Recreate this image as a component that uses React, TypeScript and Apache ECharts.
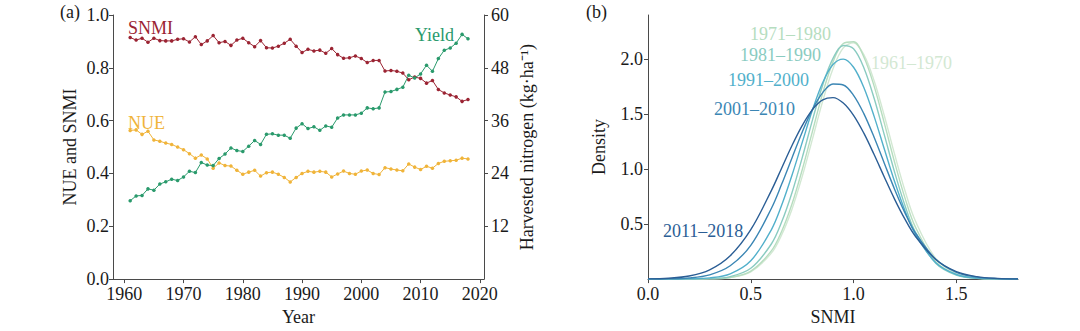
import React, { useEffect, useRef } from "react";
import * as echarts from "echarts";

// ---------- Panel (a) data ----------
const years = [
  1961, 1962, 1963, 1964, 1965, 1966, 1967, 1968, 1969, 1970,
  1971, 1972, 1973, 1974, 1975, 1976, 1977, 1978, 1979, 1980,
  1981, 1982, 1983, 1984, 1985, 1986, 1987, 1988, 1989, 1990,
  1991, 1992, 1993, 1994, 1995, 1996, 1997, 1998, 1999, 2000,
  2001, 2002, 2003, 2004, 2005, 2006, 2007, 2008, 2009, 2010,
  2011, 2012, 2013, 2014, 2015, 2016, 2017, 2018,
];

const snmi = [
  0.915, 0.905, 0.912, 0.897, 0.912, 0.903, 0.902, 0.902, 0.908, 0.91,
  0.898, 0.918, 0.888, 0.902, 0.922, 0.895, 0.9, 0.885, 0.905, 0.912,
  0.895, 0.88, 0.903, 0.876, 0.875, 0.882, 0.893, 0.908, 0.882, 0.858,
  0.87, 0.864, 0.867, 0.855, 0.873, 0.85, 0.836, 0.838, 0.845, 0.835,
  0.82, 0.828, 0.828, 0.788, 0.79, 0.787, 0.78, 0.755, 0.765, 0.76,
  0.742, 0.752, 0.718, 0.705, 0.697, 0.69, 0.673, 0.68,
];

const nue = [
  0.563, 0.565, 0.548, 0.56, 0.527, 0.522, 0.515, 0.51, 0.5, 0.49,
  0.475, 0.458, 0.47, 0.455, 0.42, 0.44, 0.43, 0.428, 0.412, 0.397,
  0.405, 0.412, 0.39, 0.403, 0.405, 0.397, 0.385, 0.368, 0.385, 0.4,
  0.408, 0.405, 0.408, 0.405, 0.387, 0.398, 0.409, 0.4, 0.397, 0.409,
  0.413, 0.4, 0.396, 0.422, 0.417, 0.413, 0.41, 0.436, 0.424, 0.415,
  0.427, 0.42, 0.438, 0.446, 0.448, 0.45, 0.458, 0.455,
];

// harvested nitrogen, kg/ha (right axis)
const yieldN = [
  17.8, 18.9, 19.0, 20.5, 20.2, 21.6, 22.1, 22.7, 22.4, 23.2,
  24.5, 24.2, 26.5, 25.9, 25.8, 27.4, 28.4, 29.8, 29.2, 29.0,
  30.2, 31.5, 30.6, 32.9, 33.0, 32.7, 32.7, 32.0, 34.3, 35.3,
  34.2, 34.6, 33.8, 34.8, 34.5, 36.6, 37.3, 37.3, 37.3, 37.7,
  38.9, 38.7, 38.9, 42.5, 42.6, 43.1, 43.6, 46.3, 45.7, 46.6,
  48.6, 47.2, 50.1, 52.0, 52.5, 53.6, 55.6, 54.6,
];

const yearTicks = [1960, 1970, 1980, 1990, 2000, 2010, 2020];
const rightTicks = [12, 24, 36, 48, 60];

// ---------- Panel (b) data ----------
const snmiGrid = [
  0, 0.1, 0.2, 0.3, 0.4, 0.5, 0.6, 0.65, 0.7, 0.75, 0.8, 0.85, 0.9, 0.95,
  1.0, 1.05, 1.1, 1.15, 1.2, 1.25, 1.3, 1.4, 1.5, 1.6, 1.7, 1.8,
];
const dens1961 = [0, 0, 0.0002, 0.002, 0.014, 0.066, 0.236, 0.401, 0.633, 0.931, 1.272, 1.617, 1.911, 2.101, 2.147, 2.04, 1.803, 1.482, 1.133, 0.805, 0.532, 0.187, 0.049, 0.01, 0.001, 0];
const dens1971 = [0, 0, 0.0003, 0.002, 0.015, 0.072, 0.256, 0.433, 0.68, 0.992, 1.343, 1.69, 1.974, 2.141, 2.157, 2.018, 1.754, 1.415, 1.06, 0.738, 0.477, 0.159, 0.04, 0.007, 0.001, 0];
const dens1981 = [0, 0, 0.0005, 0.004, 0.023, 0.098, 0.319, 0.518, 0.783, 1.102, 1.445, 1.764, 2.006, 2.123, 2.093, 1.921, 1.643, 1.308, 0.97, 0.669, 0.43, 0.144, 0.036, 0.007, 0.001, 0];
const dens1991 = [0, 0.0003, 0.002, 0.011, 0.048, 0.166, 0.448, 0.67, 0.941, 1.24, 1.536, 1.786, 1.95, 1.999, 1.925, 1.741, 1.479, 1.18, 0.884, 0.622, 0.411, 0.148, 0.042, 0.009, 0.002, 0.0002];
const dens2001 = [0.0004, 0.002, 0.01, 0.039, 0.121, 0.307, 0.642, 0.861, 1.099, 1.335, 1.542, 1.695, 1.773, 1.764, 1.67, 1.504, 1.289, 1.051, 0.815, 0.602, 0.423, 0.18, 0.062, 0.018, 0.004, 0.001];
const dens2011 = [0.002, 0.008, 0.028, 0.084, 0.212, 0.449, 0.804, 1.008, 1.212, 1.395, 1.54, 1.628, 1.649, 1.6, 1.488, 1.326, 1.132, 0.926, 0.725, 0.545, 0.392, 0.178, 0.068, 0.022, 0.006, 0.001];

const decades = ["1961–1970", "1971–1980", "1981–1990", "1991–2000", "2001–2010", "2011–2018"];
const densities = [dens1961, dens1971, dens1981, dens1991, dens2001, dens2011];
const decadeColors = ["#d3e8d3", "#b6ddbf", "#8acbc1", "#52b0cb", "#3b86b4", "#2b5e95"];
const densXTicks = [0, 0.5, 1.0, 1.5];
const densYTicks = [0.5, 1.0, 1.5, 2.0];

const FONT = '"Liberation Serif", "Times New Roman", serif';
const C_SNMI = "#9b2433";
const C_NUE = "#f0b43a";
const C_YIELD = "#2a9a6c";
const AXIS = "#4a4a4a";

export default function App() {
  const ref = useRef<HTMLDivElement>(null);

  useEffect(() => {
    if (!ref.current) return;
    const chart = echarts.init(ref.current, undefined, { renderer: "svg" });

    const labelStyle = { fontSize: 18, fontFamily: FONT, color: "#1a1a1a" };
    const axisLine = { show: true, lineStyle: { color: AXIS, width: 1 } };
    const tick = { show: true, length: 4, lineStyle: { color: AXIS } };

    const lineSeries = (name: string, vals: number[], color: string, yIdx: number) => ({
      name,
      type: "line",
      xAxisIndex: 0,
      yAxisIndex: yIdx,
      data: years.map((y, i) => [y, vals[i]]),
      symbol: "circle",
      symbolSize: 3.5,
      showSymbol: true,
      lineStyle: { color, width: 1 },
      itemStyle: { color },
      z: 3,
    });

    const densSeries = densities.map((d, k) => ({
      name: decades[k],
      type: "line",
      xAxisIndex: 1,
      yAxisIndex: 2,
      data: snmiGrid.map((x, i) => [x, d[i]]),
      showSymbol: false,
      smooth: 0.35,
      lineStyle: { color: decadeColors[k], width: 1.4 },
      itemStyle: { color: decadeColors[k] },
    }));

    const txt = (text: string, x: number, y: number, fill: string, size = 18) => ({
      type: "text",
      x,
      y,
      style: {
        text,
        fill,
        font: `${size}px ${FONT}`,
        textAlign: "left",
        textVerticalAlign: "middle",
      },
      z: 10,
    });

    chart.setOption({
      animation: false,
      backgroundColor: "#ffffff",
      grid: [
        { left: 113, right: 596, top: 15, bottom: 47 },
        { left: 648, right: 62, top: 15, bottom: 47 },
      ],
      xAxis: [
        {
          type: "value",
          gridIndex: 0,
          min: 1958.1,
          max: 2020.7,
          axisLine,
          axisTick: { ...tick, customValues: yearTicks },
          axisLabel: {
            ...labelStyle,
            customValues: yearTicks,
            margin: 6,
            formatter: (v: number) => String(Math.round(v)),
          },
          splitLine: { show: false },
          name: "Year",
          nameLocation: "middle",
          nameGap: 27,
          nameTextStyle: labelStyle,
        },
        {
          type: "value",
          gridIndex: 1,
          min: 0,
          max: 1.8,
          axisLine,
          axisTick: { ...tick, customValues: densXTicks },
          axisLabel: {
            ...labelStyle,
            customValues: densXTicks,
            margin: 6,
            formatter: (v: number) => v.toFixed(1),
          },
          splitLine: { show: false },
          name: "SNMI",
          nameLocation: "middle",
          nameGap: 28,
          nameTextStyle: labelStyle,
        },
      ],
      yAxis: [
        {
          type: "value",
          gridIndex: 0,
          position: "left",
          min: 0,
          max: 1,
          interval: 0.2,
          axisLine,
          axisTick: tick,
          axisLabel: { ...labelStyle, margin: 4, formatter: (v: number) => v.toFixed(1) },
          splitLine: { show: false },
          name: "NUE and SNMI",
          nameLocation: "middle",
          nameRotate: 90,
          nameGap: 34,
          nameTextStyle: labelStyle,
        },
        {
          type: "value",
          gridIndex: 0,
          position: "right",
          min: 0,
          max: 60,
          interval: 12,
          axisLine,
          axisTick: { ...tick, customValues: rightTicks },
          axisLabel: { ...labelStyle, customValues: rightTicks, margin: 7 },
          splitLine: { show: false },
          name: "Harvested nitrogen (kg·ha⁻¹)",
          nameLocation: "middle",
          nameRotate: 90,
          nameGap: 34,
          nameTextStyle: labelStyle,
        },
        {
          type: "value",
          gridIndex: 1,
          min: 0,
          max: 2.4,
          axisLine,
          axisTick: { ...tick, customValues: densYTicks },
          axisLabel: {
            ...labelStyle,
            customValues: densYTicks,
            margin: 5,
            formatter: (v: number) => v.toFixed(1),
          },
          splitLine: { show: false },
          name: "Density",
          nameLocation: "middle",
          nameRotate: 90,
          nameGap: 40,
          nameTextStyle: labelStyle,
        },
      ],
      series: [
        lineSeries("SNMI", snmi, C_SNMI, 0),
        lineSeries("NUE", nue, C_NUE, 0),
        lineSeries("Yield", yieldN, C_YIELD, 1),
        ...densSeries,
      ],
      graphic: [
        txt("(a)", 60, 12, "#1a1a1a"),
        txt("(b)", 586, 12, "#1a1a1a"),
        txt("SNMI", 128, 28, C_SNMI),
        txt("NUE", 128, 123, C_NUE),
        txt("Yield", 415, 35, C_YIELD),
        txt(decades[0], 871, 63, decadeColors[0]),
        txt(decades[1], 750, 34, decadeColors[1]),
        txt(decades[2], 740, 55, decadeColors[2]),
        txt(decades[3], 728, 80, decadeColors[3]),
        txt(decades[4], 714, 109, decadeColors[4]),
        txt(decades[5], 663, 231, decadeColors[5]),
      ],
    });

    return () => chart.dispose();
  }, []);

  return (
    <div
      ref={ref}
      style={{ position: "fixed", left: 0, top: 0, width: 1080, height: 331, background: "#fff" }}
    />
  );
}
